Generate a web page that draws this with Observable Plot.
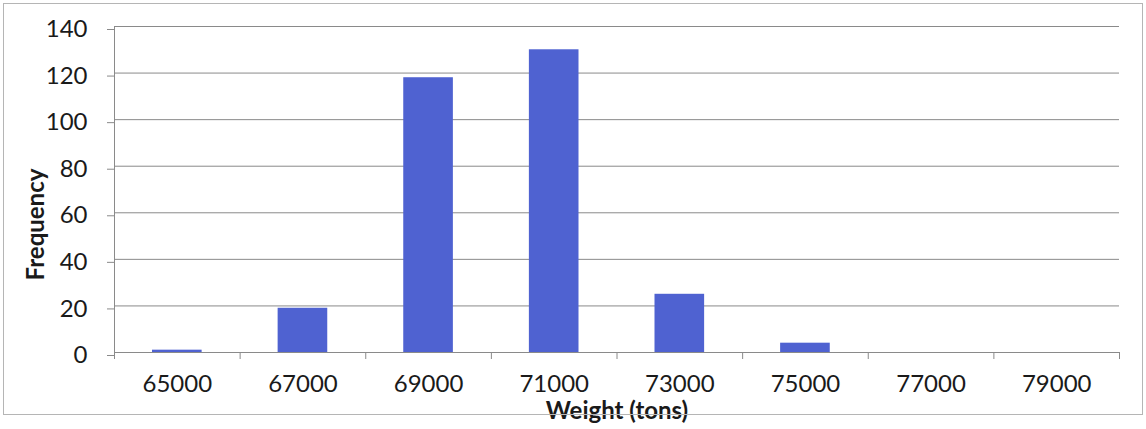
<!DOCTYPE html>
<html>
<head>
<meta charset="utf-8">
<script src="https://cdn.jsdelivr.net/npm/d3@7"></script>
<script src="https://cdn.jsdelivr.net/npm/@observablehq/plot@0.6"></script>
<style>
  html, body { margin: 0; padding: 0; background: #fff; }
  #wrap { position: relative; width: 1146px; height: 429px; }
  #border { position: absolute; left: 3px; top: 3px; width: 1140px; height: 412px; border: 1px solid #b5b5b5; box-sizing: border-box; pointer-events: none; }
  svg { font-family: Lato, "Open Sans", sans-serif; }
</style>
</head>
<body>
<div id="wrap"><div id="border"></div></div>
<script>
// Bin centres (tons) and frequencies
const weights = [65000, 67000, 69000, 71000, 73000, 75000, 77000, 79000];
const frequencies = [1, 19, 118, 130, 25, 4, 0, 0];
// Bin edges (tick marks on the x axis)
const binEdges = [64000, 66000, 68000, 70000, 72000, 74000, 76000, 78000, 80000];
// Y-axis tick values
const yTicks = [0, 20, 40, 60, 80, 100, 120, 140];

const data = weights.map((w, i) => ({weight: w, count: frequencies[i]}));

const axisColor = "#8a8a8a";
const textColor = "#1a1a1a";

const chart = Plot.plot({
  width: 1146,
  height: 429,
  marginLeft: 114,
  marginRight: 27,
  marginTop: 26,
  marginBottom: 77,
  style: {fontFamily: "Lato, 'Open Sans', sans-serif", fontSize: "24px", color: textColor, background: "transparent"},
  x: {domain: [64000, 80000]},
  y: {domain: [0, 140]},
  marks: [
    Plot.gridY(yTicks, {stroke: axisColor, strokeOpacity: 1, strokeWidth: 1}),
    Plot.rectY(data, {x: "weight", y: "count", interval: 2000, fill: "#4f62d1", insetLeft: 38, insetRight: 38}),
    Plot.axisY(yTicks, {tickSize: 7, tickPadding: 20, stroke: axisColor, fill: textColor, fontSize: 24, dy: 3, label: null}),
    Plot.axisX(binEdges, {tickSize: 7, stroke: axisColor, tickFormat: () => "", label: null}),
    Plot.axisX(weights, {tickSize: 0, tickPadding: 22, tickFormat: d => String(d), fill: textColor, fontSize: 24, label: null}),
    Plot.ruleY([0], {stroke: axisColor}),
    Plot.ruleX([64000], {stroke: axisColor}),
    Plot.text(["Frequency"], {frameAnchor: "left", textAnchor: "middle", lineAnchor: "middle", dx: -78, dy: 35, rotate: -90, fontWeight: "bold", fontSize: 24, fill: textColor}),
    Plot.text(["Weight (tons)"], {frameAnchor: "bottom", textAnchor: "middle", lineAnchor: "middle", dy: 59, fontWeight: "bold", fontSize: 24, fill: textColor})
  ]
});
document.getElementById("wrap").prepend(chart);
</script>
</body>
</html>
